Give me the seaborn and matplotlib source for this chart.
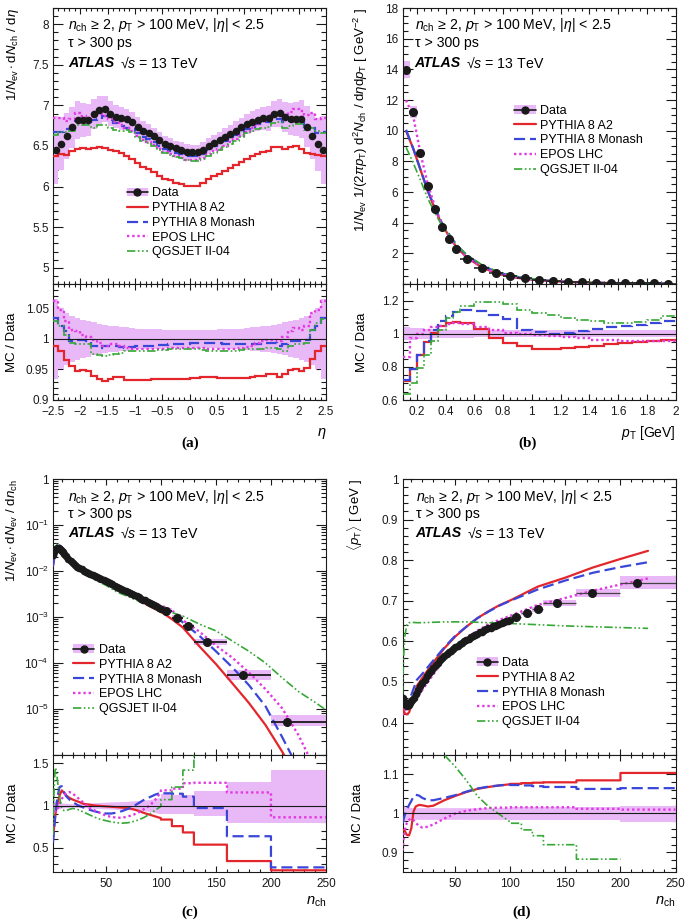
import numpy as np
import matplotlib
matplotlib.use("Agg")
import matplotlib.pyplot as plt
import matplotlib.ticker as mticker
from matplotlib.lines import Line2D
from matplotlib.patches import Patch
import seaborn as sns

# ---------------- (a) eta distribution ----------------
eta_edges = np.round(np.arange(-2.5, 2.51, 0.1), 2)
eta_data = [6.45, 6.53, 6.62, 6.73, 6.82, 6.82, 6.82, 6.89, 6.94, 6.95,
            6.90, 6.86, 6.84, 6.83, 6.80, 6.74, 6.69, 6.66, 6.62, 6.57,
            6.53, 6.50, 6.47, 6.45, 6.43, 6.42, 6.42, 6.45, 6.50, 6.54,
            6.57, 6.61, 6.65, 6.69, 6.73, 6.77, 6.80, 6.82, 6.84, 6.84,
            6.89, 6.91, 6.86, 6.83, 6.83, 6.83, 6.74, 6.62, 6.52, 6.45]
eta_unc = [0.065, 0.050, 0.043, 0.038, 0.034, 0.031, 0.029, 0.027, 0.025, 0.023,
           0.022, 0.021, 0.020, 0.019, 0.018, 0.017, 0.017, 0.016, 0.016, 0.016,
           0.015, 0.015, 0.015, 0.015, 0.015, 0.015, 0.015, 0.015, 0.015, 0.015,
           0.016, 0.016, 0.016, 0.017, 0.017, 0.018, 0.019, 0.020, 0.021, 0.022,
           0.023, 0.025, 0.027, 0.029, 0.031, 0.034, 0.038, 0.043, 0.050, 0.065]
eta_r_a2 = [0.988, 0.980, 0.966, 0.956, 0.947, 0.949, 0.947, 0.940, 0.934, 0.931,
            0.935, 0.938, 0.938, 0.933, 0.933, 0.933, 0.933, 0.933, 0.934, 0.934,
            0.934, 0.935, 0.935, 0.935, 0.935, 0.936, 0.936, 0.937, 0.937, 0.937,
            0.936, 0.936, 0.936, 0.936, 0.936, 0.936, 0.937, 0.939, 0.940, 0.942,
            0.942, 0.938, 0.943, 0.949, 0.951, 0.947, 0.952, 0.967, 0.980, 0.988]
eta_r_monash = [1.034, 1.021, 1.013, 0.997, 0.999, 0.999, 0.996, 0.989, 0.985, 0.988,
                0.988, 0.988, 0.986, 0.985, 0.987, 0.988, 0.988, 0.989, 0.989, 0.990,
                0.990, 0.991, 0.991, 0.992, 0.992, 0.993, 0.993, 0.993, 0.993, 0.993,
                0.993, 0.992, 0.992, 0.992, 0.991, 0.991, 0.991, 0.992, 0.992, 0.993,
                0.993, 0.988, 0.991, 0.996, 0.997, 0.997, 0.999, 1.015, 1.021, 1.034]
eta_r_epos = [1.062, 1.048, 1.029, 1.015, 1.013, 1.007, 1.004, 0.999, 0.993, 0.988,
              0.991, 0.991, 0.988, 0.985, 0.983, 0.983, 0.983, 0.984, 0.984, 0.984,
              0.984, 0.985, 0.985, 0.985, 0.985, 0.985, 0.985, 0.985, 0.984, 0.984,
              0.984, 0.984, 0.984, 0.984, 0.985, 0.986, 0.988, 0.993, 0.997, 0.999,
              0.999, 0.997, 1.004, 1.013, 1.018, 1.015, 1.021, 1.043, 1.048, 1.062]
eta_r_qgs = [1.029, 1.021, 1.007, 0.993, 0.991, 0.991, 0.991, 0.976, 0.974, 0.972,
             0.974, 0.976, 0.977, 0.980, 0.981, 0.981, 0.981, 0.981, 0.981, 0.982,
             0.982, 0.983, 0.983, 0.984, 0.984, 0.984, 0.983, 0.982, 0.981, 0.981,
             0.981, 0.981, 0.981, 0.981, 0.982, 0.983, 0.983, 0.983, 0.983, 0.985,
             0.985, 0.983, 0.980, 0.988, 0.991, 0.991, 0.993, 1.015, 1.026, 1.032]

# ---------------- (b) pT distribution ----------------
pt_edges = [0.10, 0.15, 0.20, 0.25, 0.30, 0.35, 0.40, 0.45, 0.50, 0.60, 0.70, 0.80,
            0.90, 1.00, 1.10, 1.20, 1.30, 1.40, 1.50, 1.60, 1.70, 1.80, 1.90, 2.00]
pt_data = [13.97, 11.20, 8.53, 6.40, 4.88, 3.70, 2.92, 2.26, 1.61, 1.07, 0.72, 0.50,
           0.36, 0.26, 0.19, 0.145, 0.11, 0.085, 0.067, 0.053, 0.042, 0.034, 0.028]
pt_unc = [0.040, 0.036, 0.032, 0.030, 0.028, 0.026, 0.025, 0.024, 0.023, 0.022, 0.022, 0.022,
          0.022, 0.022, 0.022, 0.022, 0.022, 0.022, 0.022, 0.022, 0.022, 0.022, 0.022]
pt_r_a2 = [0.714, 0.788, 0.874, 0.950, 1.004, 1.044, 1.064, 1.070, 1.062, 1.028, 0.974, 0.944,
           0.924, 0.910, 0.908, 0.912, 0.918, 0.928, 0.938, 0.944, 0.948, 0.954, 0.964]
pt_r_monash = [0.720, 0.788, 0.874, 0.954, 1.024, 1.074, 1.108, 1.134, 1.144, 1.140, 1.114, 1.088,
               1.024, 1.008, 1.000, 1.004, 1.014, 1.028, 1.038, 1.044, 1.054, 1.064, 1.074]
pt_r_epos = [0.858, 0.975, 1.000, 1.020, 1.040, 1.048, 1.058, 1.064, 1.058, 1.040, 1.020, 1.004,
             1.000, 0.994, 0.988, 0.980, 0.974, 0.964, 0.960, 0.958, 0.956, 0.954, 0.954]
pt_r_qgs = [0.638, 0.704, 0.794, 0.874, 0.954, 1.024, 1.094, 1.134, 1.168, 1.194, 1.194, 1.180,
            1.144, 1.124, 1.114, 1.094, 1.080, 1.074, 1.064, 1.064, 1.068, 1.084, 1.104]

# ---------------- common n_ch binning ----------------
nch_dense = [2, 3, 4, 5, 6, 7, 8, 9, 10, 11, 12, 14, 16, 18, 20, 22, 24, 26, 28, 30,
             32, 34, 36, 38, 40, 42, 44, 46, 48, 50, 52, 54, 56, 58, 60, 62, 64, 66, 68, 70,
             72, 74, 76, 78, 80, 82, 84, 86, 88, 90, 92, 94, 96, 98, 100]
wide_edges = [100, 110, 120, 130, 160, 200, 250]
wide_x = [105, 115, 125, 142, 174.5, 215]

# ---------------- (c) multiplicity ----------------
nch_data = [0.0225, 0.026, 0.029, 0.030, 0.031, 0.031, 0.030, 0.0285, 0.027, 0.0253, 0.0237,
            0.0208, 0.0184, 0.0163, 0.0146, 0.0134, 0.0124, 0.0116, 0.0109, 0.0102,
            0.0097, 0.0091, 0.0086, 0.0081, 0.0077, 0.0073, 0.0069, 0.0066, 0.0063, 0.0060,
            0.0057, 0.0054, 0.0051, 0.0048, 0.0046, 0.0043, 0.0041, 0.0039, 0.0037, 0.0035,
            0.0033, 0.0032, 0.0030, 0.0028, 0.0027, 0.0025, 0.0024, 0.0023, 0.0021, 0.0020,
            0.0019, 0.0018, 0.0017, 0.0016, 0.00152]
nch_wide_data = [1.35e-3, 9.7e-4, 6.4e-4, 2.8e-4, 5.5e-5, 5.3e-6]
nch_wide_lo = [0.90, 0.90, 0.90, 0.88, 0.79, 0.79]
nch_wide_hi = [1.14, 1.13, 1.12, 1.175, 1.28, 1.42]

nch_mc_x = [2, 4, 6, 8, 10, 15, 20, 30, 40, 50, 60, 70, 80, 90, 100, 110, 120, 135, 150,
            165, 180, 195, 210, 225, 240, 250]
nch_a2 = [0.013, 0.025, 0.032, 0.034, 0.031, 0.0205, 0.0152, 0.0102, 0.0075, 0.0059, 0.0043,
          0.0033, 0.0024, 0.0017, 0.0013, 9.0e-4, 5.9e-4, 2.3e-4, 9.5e-5, 3.6e-5, 1.35e-5,
          4.5e-6, 1.2e-6, 3e-7, 1e-7, 5e-8]
nch_monash = [0.013, 0.027, 0.034, 0.036, 0.032, 0.020, 0.0148, 0.0101, 0.0072, 0.0055, 0.0041,
              0.0034, 0.0027, 0.0021, 0.0017, 0.00125, 7.6e-4, 3.9e-4, 1.8e-4, 8.0e-5, 3.3e-5,
              1.15e-5, 2.5e-6, 5e-7, 1e-7, 5e-8]
nch_epos = [0.023, 0.028, 0.029, 0.030, 0.030, 0.021, 0.0155, 0.0098, 0.0072, 0.0053, 0.0038,
            0.0031, 0.0025, 0.0020, 0.0018, 0.0014, 8.5e-4, 4.8e-4, 2.4e-4, 1.3e-4, 6.2e-5,
            2.7e-5, 1.05e-5, 2.7e-6, 5e-7, 2e-7]
nch_qgs = [0.019, 0.038, 0.038, 0.031, 0.027, 0.018, 0.0138, 0.0093, 0.0064, 0.0049, 0.0035,
           0.0028, 0.0022, 0.0018, 0.0015, 0.00125, 1.05e-3, 7.0e-4, 5.0e-4, 3.0e-4, 1.8e-4,
           1.0e-4, 4.8e-5, 2.4e-5, 1.4e-5, 9.5e-6]

nch_r_x = [2, 3, 4, 5, 6, 8, 10, 12, 14, 17, 20, 25, 30, 35, 40, 45, 50, 55, 60, 65, 70,
           75, 80, 85, 90, 95, 100]
nch_r_a2 = [0.60, 0.75, 0.88, 0.96, 1.02, 1.12, 1.18, 1.15, 1.12, 1.09, 1.07, 1.045, 1.02,
            1.01, 1.00, 0.995, 0.99, 0.985, 0.98, 0.975, 0.97, 0.955, 0.935, 0.91, 0.89, 0.87, 0.85]
nch_r_monash = [0.56, 0.72, 0.86, 0.99, 1.10, 1.22, 1.23, 1.16, 1.11, 1.07, 1.04, 1.00, 0.975,
                0.95, 0.93, 0.915, 0.905, 0.905, 0.915, 0.935, 0.96, 0.99, 1.03, 1.07, 1.10,
                1.13, 1.15]
nch_r_epos = [1.00, 0.96, 0.93, 0.93, 0.95, 1.02, 1.08, 1.12, 1.15, 1.16, 1.14, 1.085, 1.03,
              0.97, 0.94, 0.91, 0.88, 0.865, 0.855, 0.855, 0.87, 0.89, 0.92, 0.96, 1.00,
              1.07, 1.16]
nch_r_qgs = [0.65, 1.20, 1.45, 1.42, 1.30, 1.10, 0.96, 0.94, 0.94, 0.955, 0.965, 0.95, 0.92,
             0.89, 0.86, 0.835, 0.82, 0.805, 0.795, 0.79, 0.795, 0.81, 0.83, 0.86, 0.90,
             0.945, 0.99]
nch_rw_a2 = [0.833, 0.755, 0.68, 0.535, 0.34, 0.23]
nch_rw_monash = [1.145, 1.14, 1.105, 0.97, 0.635, 0.265]
nch_rw_epos = [1.18, 1.20, 1.265, 1.27, 1.155, 0.86]
nch_rw_qgs = [1.07, 1.22, 1.42, 2.1, 3.2, 4.5]
nch_band_x = [2, 10, 20, 50, 70, 90, 100]
nch_band_hw = [0.06, 0.03, 0.02, 0.04, 0.05, 0.07, 0.10]

# ---------------- (d) mean pT vs n_ch ----------------
mpt_data = [0.460, 0.452, 0.446, 0.442, 0.441, 0.442, 0.444, 0.448, 0.452, 0.456, 0.460,
            0.470, 0.480, 0.490, 0.498, 0.506, 0.514, 0.521, 0.528, 0.535,
            0.541, 0.547, 0.553, 0.558, 0.563, 0.568, 0.573, 0.577, 0.581, 0.585,
            0.589, 0.593, 0.597, 0.600, 0.604, 0.607, 0.610, 0.613, 0.616, 0.619,
            0.622, 0.624, 0.627, 0.630, 0.632, 0.634, 0.637, 0.639, 0.641, 0.643,
            0.645, 0.647, 0.649, 0.651, 0.653]
mpt_wide_data = [0.660, 0.670, 0.679, 0.694, 0.719, 0.745]
mpt_wide_err = [0.005, 0.005, 0.006, 0.007, 0.009, 0.015]

mpt_mc_x = [2, 3, 4, 6, 8, 10, 15, 20, 30, 40, 50, 60, 70, 80, 90, 100, 125, 150, 175, 200, 225]
mpt_a2 = [0.440, 0.430, 0.423, 0.420, 0.425, 0.442, 0.490, 0.510, 0.548, 0.583, 0.612, 0.636,
          0.657, 0.674, 0.689, 0.701, 0.735, 0.757, 0.782, 0.803, 0.823]
mpt_monash = [0.450, 0.446, 0.444, 0.443, 0.452, 0.468, 0.505, 0.520, 0.553, 0.585, 0.614, 0.636,
              0.657, 0.673, 0.688, 0.700, 0.728, 0.750, 0.769, 0.783, 0.795]
mpt_epos = [0.418, 0.425, 0.430, 0.434, 0.438, 0.444, 0.460, 0.480, 0.519, 0.556, 0.585, 0.610,
            0.626, 0.642, 0.653, 0.663, 0.690, 0.707, 0.725, 0.740, 0.755]
mpt_qgs = [0.470, 0.560, 0.610, 0.643, 0.646, 0.647, 0.646, 0.646, 0.647, 0.648, 0.648, 0.648,
           0.647, 0.646, 0.645, 0.644, 0.641, 0.638, 0.636, 0.634, 0.632]

mpt_r_x = [2, 3, 4, 5, 6, 8, 10, 12, 14, 17, 20, 25, 30, 40, 50, 60, 70, 80, 90, 100]
mpt_r_a2 = [0.958, 0.958, 0.956, 0.950, 0.945, 0.944, 0.962, 1.005, 1.018, 1.022, 1.021, 1.018,
            1.020, 1.034, 1.045, 1.055, 1.063, 1.068, 1.072, 1.075]
mpt_r_monash = [0.975, 0.985, 0.995, 1.003, 1.010, 1.022, 1.032, 1.044, 1.048, 1.046, 1.040,
                1.034, 1.034, 1.040, 1.047, 1.056, 1.064, 1.069, 1.072, 1.074]
mpt_r_epos = [0.905, 0.935, 0.955, 0.968, 0.976, 0.984, 0.987, 0.983, 0.976, 0.968, 0.964,
              0.966, 0.972, 0.987, 1.000, 1.007, 1.011, 1.014, 1.015, 1.015]
mpt_r_qgs = [1.25, 1.30, 1.38, 1.45, 1.46, 1.45, 1.42, 1.40, 1.37, 1.33, 1.29, 1.23, 1.19,
             1.15, 1.12, 1.085, 1.045, 1.018, 0.998, 0.978]
mpt_rw_a2 = [1.076, 1.078, 1.079, 1.080, 1.085, 1.104]
mpt_rw_monash = [1.073, 1.072, 1.070, 1.068, 1.063, 1.065]
mpt_rw_epos = [1.016, 1.016, 1.016, 1.016, 1.012, 1.010]
mpt_rw_qgs = [0.975, 0.958, 0.943, 0.920, 0.883]
mpt_band_x = [2, 10, 100]
mpt_band_hw = [0.02, 0.015, 0.015]
mpt_rw_band_lo = [0.984, 0.984, 0.984, 0.984, 0.983, 0.978]
mpt_rw_band_hi = [1.016, 1.016, 1.016, 1.016, 1.017, 1.019]

# ---------------- style ----------------
sns.set_theme(style="ticks")
plt.rcParams['font.family'] = ['Liberation Sans', 'DejaVu Sans']
plt.rcParams['mathtext.fontset'] = 'custom'
plt.rcParams['mathtext.rm'] = 'Liberation Sans'
plt.rcParams['mathtext.it'] = 'Liberation Sans:italic'
plt.rcParams['mathtext.bf'] = 'Liberation Sans:bold'
plt.rcParams['axes.linewidth'] = 0.8
plt.rcParams['axes.edgecolor'] = 'black'
plt.rcParams['text.color'] = 'black'
plt.rcParams['axes.labelcolor'] = 'black'

RED = '#e3262c'
BLUE = '#3a46d8'
MAG = '#e23ae2'
GRN = '#35a835'
BAND = '#e9b8f7'
models = [('PYTHIA 8 A2', RED, '-', 1.6),
          ('PYTHIA 8 Monash', BLUE, (0, (5, 2.2)), 1.6),
          ('EPOS LHC', MAG, (0, (1, 1.2)), 1.7),
          ('QGSJET II-04', GRN, (0, (5, 1.5, 1, 1.5, 1, 1.5)), 1.2)]
FS = 9

fig = plt.figure(figsize=(6.85, 9.22), dpi=100)
W = 273 / 685
XL = [53 / 685, 402.5 / 685]


def add(x0, ytop, h, **kw):
    return fig.add_axes([x0, 1 - (ytop + h) / 922, W, h / 922], **kw)


axa = add(XL[0], 8, 276); axa_r = add(XL[0], 284, 116, sharex=axa)
axb = add(XL[1], 8, 276); axb_r = add(XL[1], 284, 116, sharex=axb)
axc = add(XL[0], 479, 276); axc_r = add(XL[0], 755, 117, sharex=axc)
axd = add(XL[1], 479, 276); axd_r = add(XL[1], 755, 117, sharex=axd)

gfmt = mticker.FuncFormatter(lambda v, p: f"{v:g}".replace('-', '\u2212'))


def style(ax, xmaj, xmin, ymaj, ymin, main):
    ax.tick_params(which='both', direction='in', top=True, right=True,
                   labelsize=8.5, colors='k', pad=3, width=0.8)
    ax.tick_params(axis='x', which='major', pad=4.5)
    ax.tick_params(axis='y', which='major', length=7)
    ax.tick_params(axis='y', which='minor', length=3.5)
    ax.tick_params(axis='x', which='major', length=4.5)
    ax.tick_params(axis='x', which='minor', length=2.3)
    ax.xaxis.set_major_locator(mticker.MultipleLocator(xmaj))
    ax.xaxis.set_minor_locator(mticker.MultipleLocator(xmin))
    if ymaj is not None:
        ax.yaxis.set_major_locator(mticker.MultipleLocator(ymaj))
        ax.yaxis.set_minor_locator(mticker.MultipleLocator(ymin))
        ax.yaxis.set_major_formatter(gfmt)
    ax.xaxis.set_major_formatter(gfmt)
    if main:
        ax.tick_params(axis='x', labelbottom=False)
    for s in ax.spines.values():
        s.set_visible(True)
        s.set_color('k')


def steps(xp, yp, edges, vals):
    xs, ys = list(xp), list(yp)
    for lo, hi, v in zip(edges[:-1], edges[1:], vals):
        xs += [lo, hi]
        ys += [v, v]
    return np.array(xs, float), np.array(ys, float)


def line(ax, x, y, m, z=3):
    name, col, ls, lw = m
    sns.lineplot(x=x, y=y, ax=ax, color=col, linestyle=ls, lw=lw,
                 estimator=None, sort=False, errorbar=None, zorder=z)


def header(ax, x0, ys):
    kw = dict(transform=ax.transAxes, fontsize=10.2, va='center', ha='left')
    ax.text(x0, ys[0], r'$n_{\rm ch}$ ≥ 2, $p_{\rm T}$ > 100 MeV, |$\eta$| < 2.5', **kw)
    ax.text(x0, ys[1], 'τ > 300 ps', **kw)
    ax.text(x0, ys[2], 'ATLAS', fontweight='bold', style='italic', **kw)
    ax.text(x0 + 0.19, ys[2], '\u221A$s$ = 13 TeV', **kw)


def legend(ax, x, y):
    hs = [(Patch(facecolor=BAND, edgecolor='none'),
           Line2D([], [], color='k', marker='o', ms=5, lw=1.2))]
    for name, col, ls, lw in models:
        hs.append(Line2D([], [], color=col, ls=ls, lw=lw))
    ax.legend(hs, ['Data'] + [m[0] for m in models], loc='upper left',
              bbox_to_anchor=(x, y), frameon=False, fontsize=FS, handlelength=1.7,
              handletextpad=0.35, labelspacing=0.22, borderpad=0, borderaxespad=0)


def ratio_line(ax):
    ax.axhline(1, color='k', lw=0.8, zorder=4)
    ax.set_ylabel('MC / Data', fontsize=FS + 0.5)


# ===================== (a) =====================
edges = eta_edges
cen = 0.5 * (edges[:-1] + edges[1:])
d = np.array(eta_data)
u = np.array(eta_unc)
axa.fill_between(edges, np.append(d * (1 - u), d[-1] * (1 - u[-1])),
                 np.append(d * (1 + u), d[-1] * (1 + u[-1])), step='post', color=BAND, lw=0)
axa_r.fill_between(edges, np.append(1 - u, 1 - u[-1]), np.append(1 + u, 1 + u[-1]),
                   step='post', color=BAND, lw=0)
for m, r in zip(models, [eta_r_a2, eta_r_monash, eta_r_epos, eta_r_qgs]):
    r = np.array(r)
    axa.stairs(r * d, edges, baseline=None, color=m[1], ls=m[2], lw=m[3], zorder=3)
    axa_r.stairs(r, edges, baseline=None, color=m[1], ls=m[2], lw=m[3], zorder=3)
sns.scatterplot(x=cen, y=d, ax=axa, color='k', s=30, linewidth=0, zorder=5)
axa.set_xlim(-2.5, 2.5)
axa.set_ylim(4.8, 8.2)
axa_r.set_ylim(0.9, 1.09)
style(axa, 0.5, 0.1, 0.5, 0.1, True)
style(axa_r, 0.5, 0.1, 0.05, 0.01, False)
ratio_line(axa_r)
axa.set_ylabel(r'$1/N_{\rm ev}\cdot{\rm d}N_{\rm ch}\ /\ {\rm d}\eta$', fontsize=FS + 0.5, loc='top')
axa_r.set_xlabel(r'$\eta$', fontsize=FS + 1.5, loc='right')
header(axa, 0.055, [0.938, 0.873, 0.80])
legend(axa, 0.27, 0.35)

# ===================== (b) =====================
edges = np.array(pt_edges)
cen = 0.5 * (edges[:-1] + edges[1:])
wid = edges[1:] - edges[:-1]
d = np.array(pt_data)
u = np.array(pt_unc)
axb.bar(cen, 2 * u * d, bottom=d * (1 - u), width=wid, color=BAND, lw=0)
axb_r.fill_between(edges, np.append(1 - u, 1 - u[-1]), np.append(1 + u, 1 + u[-1]),
                   step='post', color=BAND, lw=0)
for m, r in zip(models, [pt_r_a2, pt_r_monash, pt_r_epos, pt_r_qgs]):
    r = np.array(r)
    line(axb, cen, r * d, m)
    axb_r.stairs(r, edges, baseline=None, color=m[1], ls=m[2], lw=m[3], zorder=3)
axb.errorbar(cen, d, xerr=wid / 2, fmt='o', color='k', ms=5.5, elinewidth=1.1,
             capsize=0, zorder=5)
axb.set_xlim(0.1, 2.0)
axb.set_ylim(0, 18)
axb_r.set_ylim(0.6, 1.3)
style(axb, 0.2, 0.05, 2, 0.5, True)
axb.yaxis.set_major_formatter(mticker.FuncFormatter(lambda v, p: '' if abs(v) < 1e-9 else f"{v:g}"))
style(axb_r, 0.2, 0.05, 0.2, 0.05, False)
ratio_line(axb_r)
axb.set_ylabel(r'$1/N_{\rm ev}\ 1/(2\pi p_{\rm T})\ {\rm d}^2N_{\rm ch}\ /\ {\rm d}\eta{\rm d}p_{\rm T}$ [ GeV$^{-2}$ ]',
               fontsize=FS + 0.5, loc='top')
axb_r.set_xlabel(r'$p_{\rm T}$ [GeV]', fontsize=FS + 1, loc='right')
header(axb, 0.044, [0.938, 0.873, 0.80])
legend(axb, 0.41, 0.649)

# ===================== (c) =====================
we = np.array(wide_edges, float)
wc = np.array(wide_x, float)
xl = wc - we[:-1]
xh = we[1:] - wc
wd = np.array(nch_wide_data)
lo = np.array(nch_wide_lo)
hi = np.array(nch_wide_hi)
axc.bar(we[:-1], wd * (hi - lo), bottom=wd * lo, width=we[1:] - we[:-1], align='edge',
        color=BAND, lw=0)
for m, y in zip(models, [nch_a2, nch_monash, nch_epos, nch_qgs]):
    line(axc, nch_mc_x, y, m)
sns.scatterplot(x=nch_dense, y=nch_data, ax=axc, color='k', s=30, linewidth=0, zorder=5)
axc.errorbar(wc, wd, xerr=[xl, xh], fmt='o', color='k', ms=5.5, elinewidth=1.3,
             capsize=0, zorder=5)
axc.set_yscale('log')
axc.set_xlim(2, 250)
axc.set_ylim(1e-6, 1)
style(axc, 50, 10, None, None, True)
axc.yaxis.set_major_locator(mticker.LogLocator(base=10, numticks=10))
axc.yaxis.set_minor_locator(mticker.LogLocator(base=10, subs=np.arange(2, 10) * 1.0, numticks=20))
axc.yaxis.set_minor_formatter(mticker.NullFormatter())


def logfmt(v, p):
    e = int(round(np.log10(v)))
    if e == 0:
        return '1'
    if e < -5:
        return ''
    return f'$10^{{{e}}}$'


axc.yaxis.set_major_formatter(mticker.FuncFormatter(logfmt))
bh = np.array(nch_band_hw)
axc_r.fill_between(nch_band_x, 1 - bh, 1 + bh, color=BAND, lw=0)
axc_r.bar(we[:-1], hi - lo, bottom=lo, width=we[1:] - we[:-1], align='edge', color=BAND, lw=0)
for m, r, rw in zip(models, [nch_r_a2, nch_r_monash, nch_r_epos, nch_r_qgs],
                    [nch_rw_a2, nch_rw_monash, nch_rw_epos, nch_rw_qgs]):
    xs, ys = steps(nch_r_x, r, we[:len(rw) + 1], rw)
    line(axc_r, xs, ys, m)
axc_r.set_ylim(0.21, 1.6)
style(axc_r, 50, 10, 0.5, 0.1, False)
ratio_line(axc_r)
axc.set_ylabel(r'$1/N_{\rm ev}\cdot{\rm d}N_{\rm ev}\ /\ {\rm d}n_{\rm ch}$', fontsize=FS + 0.5, loc='top')
axc_r.set_xlabel(r'$n_{\rm ch}$', fontsize=FS + 1.5, loc='right')
header(axc, 0.055, [0.935, 0.873, 0.804])
legend(axc, 0.073, 0.402)

# ===================== (d) =====================
wd = np.array(mpt_wide_data)
we_err = np.array(mpt_wide_err)
axd.bar(we[:-1], 2 * we_err, bottom=wd - we_err, width=we[1:] - we[:-1], align='edge',
        color=BAND, lw=0)
for m, y in zip(models, [mpt_a2, mpt_monash, mpt_epos, mpt_qgs]):
    line(axd, mpt_mc_x, y, m)
sns.scatterplot(x=nch_dense, y=mpt_data, ax=axd, color='k', s=30, linewidth=0, zorder=5)
axd.errorbar(wc, wd, xerr=[xl, xh], fmt='o', color='k', ms=5.5, elinewidth=0.9,
             ecolor='#444444', capsize=0, zorder=5)
axd.set_xlim(2, 250)
axd.set_ylim(0.32, 1.0)
style(axd, 50, 10, 0.1, 0.02, True)
bh = np.array(mpt_band_hw)
axd_r.fill_between(mpt_band_x, 1 - bh, 1 + bh, color=BAND, lw=0)
blo = np.array(mpt_rw_band_lo)
bhi = np.array(mpt_rw_band_hi)
axd_r.bar(we[:-1], bhi - blo, bottom=blo, width=we[1:] - we[:-1], align='edge', color=BAND, lw=0)
for m, r, rw in zip(models, [mpt_r_a2, mpt_r_monash, mpt_r_epos, mpt_r_qgs],
                    [mpt_rw_a2, mpt_rw_monash, mpt_rw_epos, mpt_rw_qgs]):
    xs, ys = steps(mpt_r_x, r, we[:len(rw) + 1], rw)
    line(axd_r, xs, ys, m)
axd_r.set_ylim(0.85, 1.15)
style(axd_r, 50, 10, 0.1, 0.02, False)
ratio_line(axd_r)
axd.set_ylabel(r'$\langle p_{\rm T}\rangle$ [ GeV ]', fontsize=FS + 0.5, loc='top')
axd_r.set_xlabel(r'$n_{\rm ch}$', fontsize=FS + 1.5, loc='right')
header(axd, 0.048, [0.935, 0.873, 0.804])
legend(axd, 0.272, 0.355)

# label positions
for ax, xr in [(axa, -0.117), (axb, -0.118), (axc, -0.121), (axd, -0.136)]:
    ax.yaxis.set_label_coords(xr, 1.0)
for ax, xr in [(axa_r, -0.128), (axb_r, -0.125), (axc_r, -0.125), (axd_r, -0.14)]:
    ax.yaxis.set_label_coords(xr, 0.5)
axa_r.xaxis.set_label_coords(1.0, -0.22)
axb_r.xaxis.set_label_coords(1.0, -0.21)
axc_r.xaxis.set_label_coords(1.0, -0.19)
axd_r.xaxis.set_label_coords(1.0, -0.19)

pl = dict(fontsize=11, fontweight='bold', family='Liberation Serif', ha='center', va='center')
fig.text(190 / 685, 1 - 443 / 922, '(a)', **pl)
fig.text(528 / 685, 1 - 443 / 922, '(b)', **pl)
fig.text(190 / 685, 1 - 912 / 922, '(c)', **pl)
fig.text(522 / 685, 1 - 912 / 922, '(d)', **pl)

fig.savefig('out.png', dpi=100)
